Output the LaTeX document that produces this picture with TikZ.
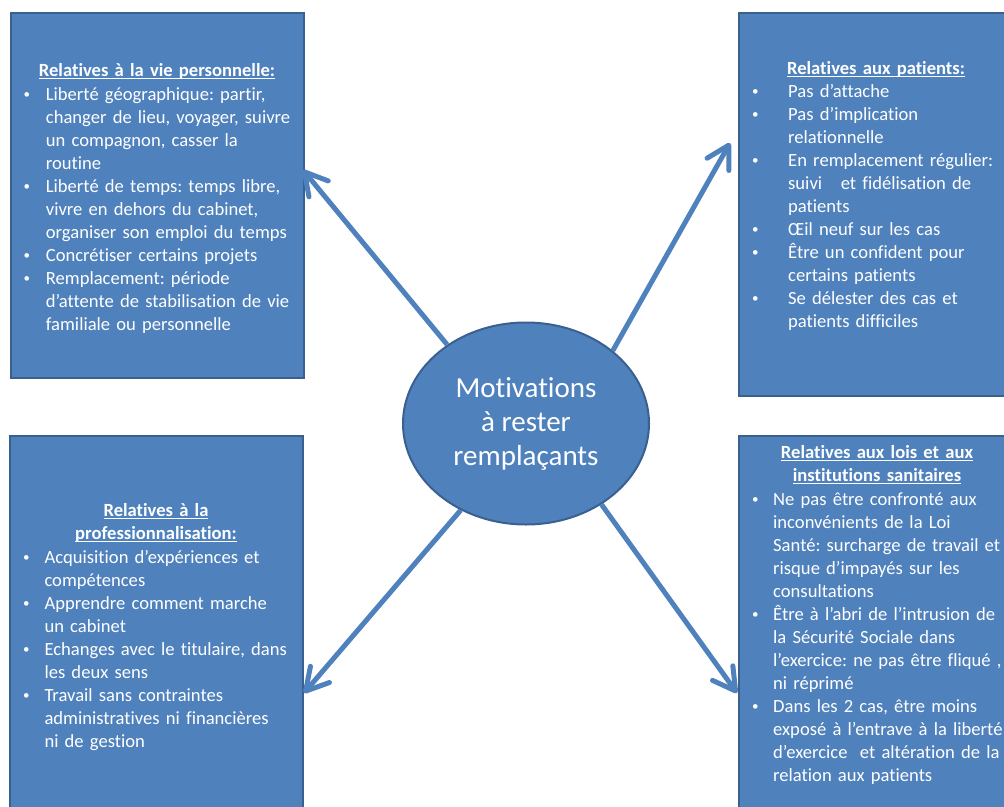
\documentclass[tikz,border=0pt]{standalone}
\usepackage{fontspec}
\setmainfont{Carlito}[Ligatures=NoCommon]
\usetikzlibrary{arrows.meta,shapes.geometric}

\definecolor{panelfill}{HTML}{4F81BD}
\definecolor{panelline}{HTML}{3A6090}
\definecolor{linkblue}{HTML}{4F81BD}

% hanging bullet item and PowerPoint-like underline
\newlength\bulind
\newlength\ulw
\newcommand\smallbul{\raisebox{1.6pt}{\fontsize{13}{13}\selectfont\textbullet}}
\newcommand\itm[1]{\noindent\hangindent=\bulind\hangafter=1\makebox[\bulind][l]{\smallbul}#1\par}
\newcommand\ulin[1]{\leavevmode\settowidth\ulw{#1}\rlap{\rule[-2.6pt]{\ulw}{1.1pt}}#1}

\tikzset{
  panel/.style={draw=panelline, line width=2.6pt, fill=panelfill, rectangle, inner sep=0pt},
  paneltitle/.style={text=white, font={\fontsize{18.6}{23}\selectfont\bfseries\frenchspacing}, align=center, text width=290pt, inner sep=0pt, anchor=base},
  panellist/.style={text=white, font={\fontsize{18.6}{23}\selectfont\frenchspacing}, align=left, text width=300pt, inner sep=0pt, anchor=base west},
  hub/.style={ellipse, draw=panelline, line width=2pt, fill=panelfill, text=white,
    minimum width=246pt, minimum height=202pt, inner sep=0pt, align=center,
    font={\fontsize{29}{34}\selectfont}},
  link/.style={draw=linkblue, line width=5pt, -{Straight Barb[length=22pt,width=25pt,round]}}
}

\begin{document}
\begin{tikzpicture}[x=1pt,y=-1pt]
\useasboundingbox (0,0) rectangle (1004,806);
\clip (0,0) rectangle (1004,806);

% four panels
\node[panel, minimum width=293pt, minimum height=365pt] (persoBox) at (157.5,195.5) {};
\node[panel, minimum width=280pt, minimum height=383pt] (patBox) at (879,204.5) {};
\node[panel, minimum width=293pt, minimum height=400pt] (proBox) at (156.5,636) {};
\node[panel, minimum width=280pt, minimum height=400pt] (loiBox) at (879,636) {};

% top left panel
\node[paneltitle] (persoTitle) at (157,76) {\ulin{Relatives à la vie personnelle:}};
\node[panellist] (persoList) at (23.5,100) {\setlength\bulind{22.2pt}%
\itm{Liberté géographique: partir,\newline changer de lieu, voyager, suivre\newline un compagnon, casser la\newline routine}
\itm{Liberté de temps: temps libre,\newline vivre en dehors du cabinet,\newline organiser son emploi du temps}
\itm{Concrétiser certains projets}
\itm{Remplacement: période\newline d’attente de stabilisation de vie\newline familiale ou personnelle}};

% top right panel
\node[paneltitle] (patTitle) at (876,74) {\ulin{Relatives aux patients:}};
\node[panellist] (patList) at (752,97) {\setlength\bulind{36pt}%
\itm{Pas d’attache}
\itm{Pas d’implication\newline relationnelle}
\itm{En remplacement régulier:\newline suivi\ \ \ et fidélisation de\newline patients}
\itm{Œil neuf sur les cas}
\itm{Être un confident pour\newline certains patients}
\itm{Se délester des cas et\newline patients difficiles}};

% bottom left panel
\node[paneltitle] (proTitle) at (156,516) {\ulin{Relatives à la}\\\ulin{professionnalisation:}};
\node[panellist] (proList) at (23,563) {\setlength\bulind{21.3pt}%
\itm{Acquisition d’expériences et\newline compétences}
\itm{Apprendre comment marche\newline un cabinet}
\itm{Echanges avec le titulaire, dans\newline les deux sens}
\itm{Travail sans contraintes\newline administratives ni financières\newline ni de gestion}};

% bottom right panel
\node[paneltitle] (loiTitle) at (877,458) {\ulin{Relatives aux lois et aux}\\\ulin{institutions sanitaires}};
\node[panellist] (loiList) at (752,505) {\setlength\bulind{21pt}%
\itm{Ne pas être confronté aux\newline inconvénients de la Loi\newline Santé: surcharge de travail et\newline risque d’impayés sur les\newline consultations}
\itm{Être à l’abri de l’intrusion de\newline la Sécurité Sociale dans\newline l’exercice: ne pas être fliqué ,\newline ni réprimé}
\itm{Dans les 2 cas, être moins\newline exposé à l’entrave à la liberté\newline d’exercice\ \ et altération de la\newline relation aux patients}};

% central ellipse
\node[hub] (hub) at (526,423.5) {Motivations\\à rester\\remplaçants};

% arrow ends on the panel borders
\coordinate (persoTip) at (303,170);
\coordinate (patTip) at (730,143);
\coordinate (proTip) at (304,693);
\coordinate (loiTip) at (737,693);

\draw[link] (hub.135.9) -- (persoTip);
\draw[link] (hub.40.2) -- (patTip);
\draw[link] (hub.233.5) -- (proTip);
\draw[link] (hub.313.2) -- (loiTip);
\end{tikzpicture}
\end{document}
